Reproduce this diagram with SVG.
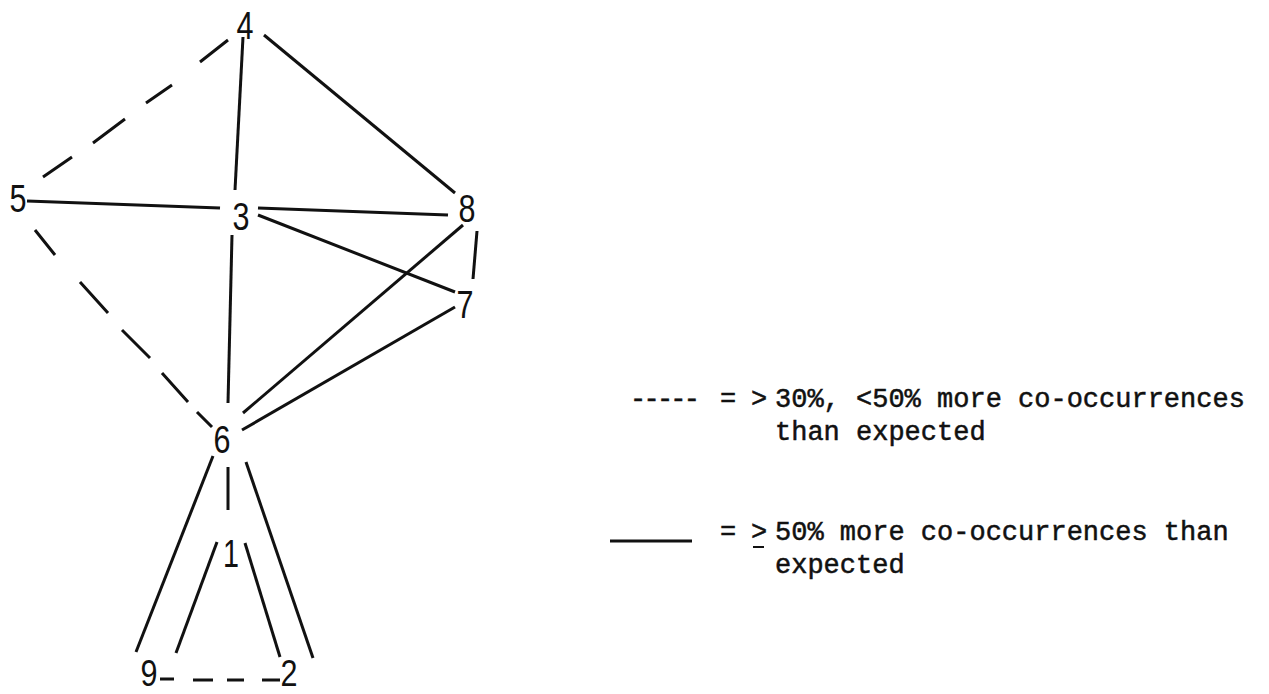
<svg xmlns="http://www.w3.org/2000/svg" width="1269" height="694" viewBox="0 0 1269 694">
  <style>
    .bg { fill: #ffffff; }
    .edge { stroke: #111; stroke-width: 3; stroke-linecap: butt; fill: none; }
    .node text { font-family: "Liberation Sans", "DejaVu Sans", sans-serif; font-size: 39px; fill: #111; text-anchor: middle; }
    .node text.low { font-size: 36px; }
    .legend text { font-family: "Liberation Mono", "DejaVu Sans Mono", monospace; font-size: 27px; fill: #111; stroke: #111; stroke-width: 0.5; }
  </style>
  <rect class="bg" x="0" y="0" width="1269" height="694"/>

  <!-- connectors -->
  <g id="connectors">
    <!-- solid: >= 50% -->
    <line class="edge" x1="243" y1="37" x2="235" y2="190"/>   <!-- 4-3 -->
    <line class="edge" x1="264" y1="35" x2="455" y2="193"/>   <!-- 4-8 -->
    <line class="edge" x1="27" y1="201" x2="220" y2="208"/>   <!-- 5-3 -->
    <line class="edge" x1="258" y1="208" x2="448" y2="215"/>  <!-- 3-8 -->
    <line class="edge" x1="258" y1="215" x2="455" y2="292"/>  <!-- 3-7 -->
    <line class="edge" x1="477" y1="231" x2="473" y2="279"/>  <!-- 8-7 -->
    <line class="edge" x1="232" y1="235" x2="228" y2="403"/>  <!-- 3-6 -->
    <line class="edge" x1="243" y1="413" x2="463" y2="225"/>  <!-- 6-8 -->
    <line class="edge" x1="242" y1="430" x2="455" y2="307"/>  <!-- 6-7 -->
    <line class="edge" x1="228" y1="467" x2="228" y2="510"/>  <!-- 6-1 -->
    <line class="edge" x1="213" y1="456" x2="136" y2="652"/>  <!-- 6-9 -->
    <line class="edge" x1="217" y1="542" x2="176" y2="653"/>  <!-- 1-9 -->
    <line class="edge" x1="245" y1="543" x2="280" y2="657"/>  <!-- 1-2 -->
    <line class="edge" x1="246" y1="462" x2="313" y2="658"/>  <!-- 6-2 -->
    <!-- dashed: 30% to 50% -->
    <path class="edge" d="M228,40 L200,62 M172,85 L146,103 M125,119 L93,143 M72,157 L43,177"/>  <!-- 4-5 -->
    <path class="edge" d="M35,230 L55,255 M80,282 L108,313 M122,330 L150,358 M162,373 L188,402 M197,412 L212,427"/>  <!-- 5-6 -->
    <path class="edge" d="M160,679 L174,679 M193,680 L213,680 M227,680 L244,680 M262,680 L280,680"/>  <!-- 9-2 -->
  </g>

  <!-- nodes -->
  <g id="node-4" class="node"><text x="245" y="39" textLength="17" lengthAdjust="spacingAndGlyphs">4</text></g>
  <g id="node-5" class="node"><text x="18" y="212" textLength="17" lengthAdjust="spacingAndGlyphs">5</text></g>
  <g id="node-3" class="node"><text x="241" y="230" textLength="17" lengthAdjust="spacingAndGlyphs">3</text></g>
  <g id="node-8" class="node"><text x="467" y="222" textLength="17" lengthAdjust="spacingAndGlyphs">8</text></g>
  <g id="node-7" class="node"><text x="465" y="318" textLength="17" lengthAdjust="spacingAndGlyphs">7</text></g>
  <g id="node-6" class="node"><text x="222" y="453" textLength="17" lengthAdjust="spacingAndGlyphs">6</text></g>
  <g id="node-1" class="node"><text x="231" y="567" textLength="16" lengthAdjust="spacingAndGlyphs">1</text></g>
  <g id="node-9" class="node"><text class="low" x="149" y="686" textLength="17" lengthAdjust="spacingAndGlyphs">9</text></g>
  <g id="node-2" class="node"><text class="low" x="289" y="686" textLength="17" lengthAdjust="spacingAndGlyphs">2</text></g>

  <!-- legend -->
  <g id="legend" class="legend">
    <text x="630" y="407" textLength="70" lengthAdjust="spacing">-----</text>
    <text x="720" y="407">=</text>
    <text x="751" y="407">&gt;</text>
    <text x="775" y="407">30%, &lt;50% more co-occurrences</text>
    <text x="775" y="440">than expected</text>

    <line class="edge" x1="610" y1="541" x2="692" y2="541"/>
    <text x="720" y="540">=</text>
    <text x="751" y="540">&gt;</text>
    <line class="edge" x1="753" y1="547" x2="764" y2="547" style="stroke-width:2"/>
    <text x="775" y="540">50% more co-occurrences than</text>
    <text x="775" y="573">expected</text>
  </g>
</svg>
